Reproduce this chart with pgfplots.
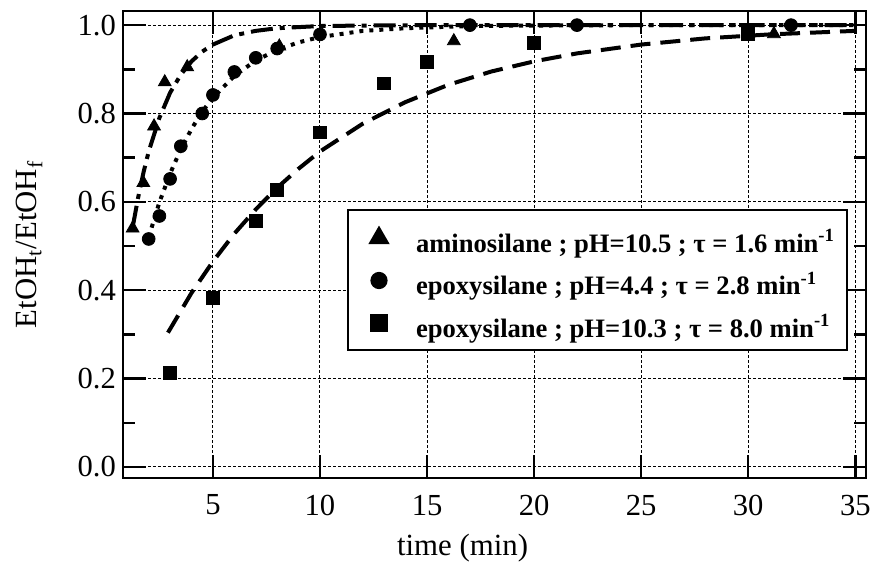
\documentclass[border=0pt]{standalone}
\usepackage{pgfplots}
\pgfplotsset{compat=1.18}
\usepackage{fontspec}
\setmainfont{Liberation Serif}

\begin{document}
\begin{tikzpicture}
\begin{axis}[
  name=ax,
  scale only axis,
  width=371.5pt, height=233.5pt,
  xmin=0.8, xmax=35.5,
  ymin=-0.025, ymax=1.032,
  xtick={5,10,15,20,25,30,35},
  ytick={0,0.2,0.4,0.6,0.8,1},
  minor y tick num=1,
  tick align=inside,
  major tick length=11.5pt,
  minor tick length=6pt,
  tick style={black, line width=1.2pt},
  axis line style={line width=1.3pt},
  grid=major,
  major grid style={black, line width=0.5pt, dash pattern=on 1.5pt off 1pt},
  yticklabel style={/pgf/number format/.cd, fixed, fixed zerofill, precision=1},
  xticklabel style={yshift=-4.9pt},
  /pgf/number format/assume math mode=true,
  ticklabel style={font=\fontsize{15.3}{18}\selectfont},
  label style={font=\fontsize{15.4}{18}\selectfont},
  xlabel={time (min)},
  xlabel style={at={(rel axis cs:0.457,0)}, anchor=base, yshift=-38.5pt},
  ylabel={EtOH\textsubscript{t}/EtOH\textsubscript{f}},
  ylabel style={at={(rel axis cs:0,0.5)}, anchor=base, yshift=43pt},
  legend style={at={(rel axis cs:0.3015,0.576)}, anchor=north west,
    draw=black, line width=1pt, fill=white,
    inner xsep=4pt, inner ysep=3.5pt, row sep=0.75pt,
    nodes={inner sep=2pt, text height=15pt, text depth=1pt},
    font=\bfseries\fontsize{13.3}{16}\selectfont},
  legend cell align=left,
]
% legend markers are drawn larger than the data markers
\addlegendimage{legend image code/.code={
  \path[draw=none, fill=none] (0pt,-3.5pt) rectangle (28pt,10.5pt);
  \draw[black, only marks, mark=triangle*, mark size=5.2pt] plot coordinates {(11.5pt,0pt)};}}
\addlegendentry{aminosilane ; pH=10.5 ; τ = 1.6 min\textsuperscript{-1}}
\addlegendimage{legend image code/.code={
  \path[draw=none, fill=none] (0pt,-3.5pt) rectangle (28pt,10.5pt);
  \draw[black, only marks, mark=*, mark size=3.8pt] plot coordinates {(11.5pt,0pt)};}}
\addlegendentry{epoxysilane ; pH=4.4 ; τ = 2.8 min\textsuperscript{-1}}
\addlegendimage{legend image code/.code={
  \path[draw=none, fill=none] (0pt,-3.5pt) rectangle (28pt,10.5pt);
  \draw[black, only marks, mark=square*, mark size=4.2pt] plot coordinates {(11.5pt,0pt)};}}
\addlegendentry{epoxysilane ; pH=10.3 ; τ = 8.0 min\textsuperscript{-1}}

% fitted curves
\addplot[black, line width=2pt, dash pattern=on 10pt off 5pt, forget plot] coordinates {
  (2.9,0.304) (4,0.394) (5,0.465) (6,0.528) (7,0.583) (8,0.632) (9,0.675)
  (10,0.714) (12,0.777) (14,0.826) (16,0.865) (18,0.895) (20,0.918)
  (22,0.936) (25,0.956) (28,0.970) (31,0.979) (35,0.987)
};
\addplot[black, line width=2pt, dash pattern=on 2pt off 3pt, forget plot] coordinates {
  (2,0.520) (2.5,0.599) (3,0.664) (3.5,0.719) (4,0.765) (4.5,0.804) (5,0.836)
  (6,0.885) (7,0.920) (8,0.944) (9,0.961) (10,0.973) (12,0.987) (14,0.993)
  (17,0.998) (20,0.999) (25,1.0) (35,1.0)
};
\addplot[black, line width=2pt, dash pattern=on 11pt off 3.5pt on 2.5pt off 3.5pt, forget plot] coordinates {
  (1.25,0.542) (1.5,0.608) (1.75,0.665) (2,0.714) (2.5,0.790) (3,0.847)
  (3.5,0.888) (4,0.918) (4.5,0.940) (5,0.956) (6,0.977) (7,0.987) (8,0.993)
  (10,0.998) (12,0.999) (15,1.0) (35,1.0)
};

% measured points
\addplot[only marks, mark=triangle*, mark size=3.7pt, black, forget plot] coordinates {
  (1.25,0.54) (1.75,0.643) (2.25,0.771) (2.75,0.871) (3.8,0.905) (8.1,0.952)
  (16.25,0.964) (31.2,0.98)
};
\addplot[only marks, mark=*, mark size=3.2pt, black, forget plot] coordinates {
  (2,0.516) (2.5,0.568) (3,0.652) (3.5,0.726) (4.5,0.80) (5,0.842) (6,0.894)
  (7,0.926) (8,0.947) (10,0.979) (17,1.0) (22,1.0) (32,1.0)
};
\addplot[only marks, mark=square*, mark size=3.2pt, black, forget plot] coordinates {
  (3,0.212) (5,0.383) (7,0.557) (8,0.627) (10,0.757) (13,0.868) (15,0.917)
  (20,0.96) (30,0.981)
};
\end{axis}
\pgfresetboundingbox
\path[use as bounding box] ([xshift=-61.5pt,yshift=-44pt]ax.south west)
  rectangle ([xshift=10.5pt,yshift=5.5pt]ax.north east);
\end{tikzpicture}
\end{document}
